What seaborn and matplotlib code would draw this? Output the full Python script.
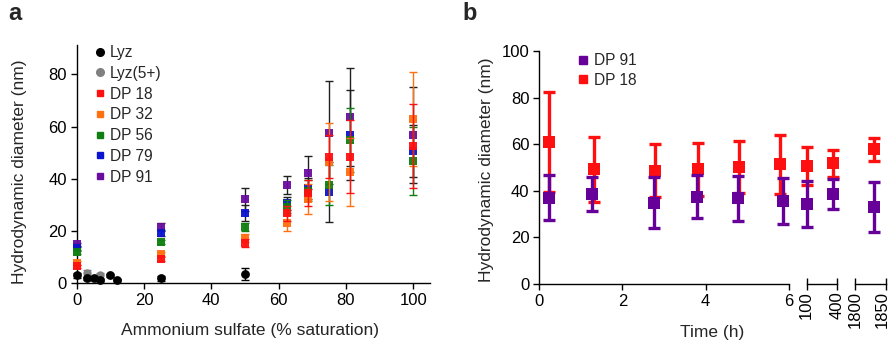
import numpy as np
import pandas as pd
import matplotlib
matplotlib.use("Agg")
import matplotlib.pyplot as plt
import matplotlib.transforms as mtransforms
import seaborn as sns
from matplotlib.lines import Line2D

# ---------------- Panel a data ----------------
as_x = [0, 25, 50, 62.5, 68.75, 75, 81.25, 100]
dp18 = [6.5, 9.2, 15.3, 26.8, 34.5, 48.5, 48.5, 52.6]
dp18_err = [0.6, 0.8, 1.5, 3.0, 5.0, 8.3, 14.0, 16.0]
dp32 = [7.8, 11.2, 17.2, 23.2, 32.2, 46.6, 42.8, 62.8]
dp32_err = [0.6, 0.8, 1.5, 3.0, 5.7, 15.0, 13.0, 18.0]
dp56 = [11.9, 15.8, 21.5, 29.3, 35.5, 37.7, 54.9, 47.0]
dp56_err = [0.6, 0.8, 1.5, 2.5, 4.0, 7.7, 12.4, 13.0]
dp79 = [13.4, 19.2, 27.0, 30.6, 36.4, 35.1, 56.8, 50.8]
dp79_err = [0.6, 1.2, 3.0, 2.5, 4.0, 11.5, 17.3, 10.0]
dp91 = [15.0, 21.7, 32.2, 37.7, 42.4, 57.7, 63.8, 56.8]
dp91_err = [0.6, 1.5, 4.4, 3.3, 6.4, 19.8, 18.8, 18.4]

lyz_x = [0, 3, 5, 7, 10, 12, 25, 50]
lyz_y = [3.0, 1.9, 1.9, 1.2, 3.0, 1.3, 1.9, 3.7]
lyz_err = [0.8, 0.5, 0.5, 0.5, 0.5, 0.5, 1.0, 2.3]
lyz5_x = [3, 7]
lyz5_y = [3.8, 3.0]
lyz5_err = [1.2, 0.8]

# ---------------- Panel b data ----------------
t91 = [0.25, 1.27, 2.75, 3.8, 4.78, 5.85, 100, 355, 1831]
dp91_b = [37.0, 38.6, 34.9, 37.5, 36.8, 35.6, 34.3, 38.6, 33.2]
dp91_b_err = [9.7, 7.4, 11.0, 9.3, 9.7, 9.8, 10.0, 6.6, 10.7]
t18 = [0.25, 1.32, 2.79, 3.82, 4.8, 5.78, 102, 355, 1831]
dp18_b = [60.9, 49.2, 48.6, 49.2, 50.3, 51.4, 50.6, 51.8, 57.8]
dp18_b_err = [21.4, 13.9, 11.4, 11.4, 11.2, 12.6, 8.3, 5.7, 4.8]

b_segments = [(0, 6), (100, 400), (1800, 1850)]
b_ticks = [[0, 2, 4, 6], [100, 400], [1800, 1850]]

# ---------------- style ----------------
sns.set_theme(style="ticks")
plt.rcParams['font.family'] = ['Liberation Sans', 'DejaVu Sans']
plt.rcParams['axes.linewidth'] = 1.0
TICK_FS = 12
LAB_FS = 12.5
LEG_FS = 11.2

C_RED = "#ff1010"
C_ORA = "#ff7010"
C_GRN = "#0f7f12"
C_BLU = "#0a14d0"
C_PUR = "#6a0ca0"
C_PUR_B = "#660099"

W, H = 891, 341
fig = plt.figure(figsize=(W / 100, H / 100), dpi=100)


def rect(l, t, r, b):
    return [l / W, 1 - b / H, (r - l) / W, (b - t) / H]


# ================= Panel a =================
axa = fig.add_axes(rect(76.7, 45, 430, 283.3))
series_a = [
    ("DP 91", dp91, dp91_err, C_PUR, "#202020"),
    ("DP 79", dp79, dp79_err, C_BLU, "#202020"),
    ("DP 56", dp56, dp56_err, C_GRN, C_GRN),
    ("DP 32", dp32, dp32_err, C_ORA, C_ORA),
    ("DP 18", dp18, dp18_err, C_RED, C_RED),
]
z = 3
for name, vals, errs, col, ecol in series_a:
    axa.errorbar(as_x, vals, yerr=errs, fmt='none', ecolor=ecol, elinewidth=1.0,
                 capsize=2.6, capthick=1.0, zorder=z, clip_on=False)
    df = pd.DataFrame({"x": as_x, "y": vals})
    sns.scatterplot(data=df, x="x", y="y", ax=axa, marker='s', color=col, s=30,
                    linewidth=0, zorder=z + 0.5, clip_on=False, alpha=0.95)
    z += 1

axa.errorbar(lyz5_x, lyz5_y, yerr=lyz5_err, fmt='none', ecolor="#808080",
             elinewidth=1.0, capsize=2.6, capthick=1.0, zorder=z, clip_on=False)
sns.scatterplot(x=lyz5_x, y=lyz5_y, ax=axa, marker='o', color="#808080", s=36,
                linewidth=0, zorder=z + 0.5, clip_on=False)
z += 1
axa.errorbar(lyz_x, lyz_y, yerr=lyz_err, fmt='none', ecolor="black",
             elinewidth=1.0, capsize=2.6, capthick=1.0, zorder=z, clip_on=False)
sns.scatterplot(x=lyz_x, y=lyz_y, ax=axa, marker='o', color="black", s=40,
                linewidth=0, zorder=z + 0.5, clip_on=False)

axa.set_xlim(0, 105)
axa.set_ylim(0, 91.3)
axa.set_xticks([0, 20, 40, 60, 80, 100])
axa.set_yticks([0, 20, 40, 60, 80])
axa.set_xlabel("")
axa.set_ylabel("")
sns.despine(ax=axa)
axa.tick_params(axis='both', direction='out', length=4, width=1.0,
                labelsize=TICK_FS, colors='black', pad=3)
for s in axa.spines.values():
    s.set_color('black')

handles_a = [
    Line2D([], [], marker='o', color='black', linestyle='none', markersize=5.5),
    Line2D([], [], marker='o', color='#808080', linestyle='none', markersize=5.5),
    Line2D([], [], marker='s', color=C_RED, linestyle='none', markersize=4.8),
    Line2D([], [], marker='s', color=C_ORA, linestyle='none', markersize=4.8),
    Line2D([], [], marker='s', color=C_GRN, linestyle='none', markersize=4.8),
    Line2D([], [], marker='s', color=C_BLU, linestyle='none', markersize=4.8),
    Line2D([], [], marker='s', color=C_PUR, linestyle='none', markersize=4.8),
]
labels_a = ["Lyz", "Lyz(5+)", "DP 18", "DP 32", "DP 56", "DP 79", "DP 91"]
axa.legend(handles_a, labels_a, loc='upper left', bbox_to_anchor=(0.048, 1.0),
           frameon=False, fontsize=LEG_FS, handlelength=0.8, handletextpad=0.25,
           labelspacing=0.37, borderpad=0, borderaxespad=0)

fig.text(250 / W, 1 - 331 / H, "Ammonium sulfate (% saturation)", ha='center',
         va='center', fontsize=LAB_FS)
fig.text(20 / W, 1 - 172 / H, "Hydrodynamic diameter (nm)", ha='center',
         va='center', rotation=90, fontsize=LAB_FS)
fig.text(8 / W, 1 - 14 / H, "a", ha='left', va='center', fontsize=17,
         fontweight='bold')

# ================= Panel b =================
seg_px = [(539, 789), (806.7, 837.3), (855, 885.7)]
axes_b = []
for i, ((lo, hi), (pl, pr), ticks) in enumerate(zip(b_segments, seg_px, b_ticks)):
    ax = fig.add_axes(rect(pl, 51, pr, 284))
    axes_b.append(ax)
    for tt, vals, errs, col, zz in [(t18, dp18_b, dp18_b_err, C_RED, 3),
                                    (t91, dp91_b, dp91_b_err, C_PUR_B, 5)]:
        sel = [k for k, v in enumerate(tt) if lo <= v <= hi]
        xs = [tt[k] for k in sel]
        ys = [vals[k] for k in sel]
        es = [errs[k] for k in sel]
        ax.errorbar(xs, ys, yerr=es, fmt='none', ecolor=col, elinewidth=2.4,
                    capsize=4.3, capthick=2.4, zorder=zz, clip_on=False)
        sns.scatterplot(x=xs, y=ys, ax=ax, marker='s', color=col, s=80,
                        linewidth=0, zorder=zz + 0.5, clip_on=False)
    ax.set_xlim(lo, hi)
    ax.set_ylim(0, 100)
    ax.set_xticks(ticks)
    ax.set_xlabel("")
    ax.set_ylabel("")
    ax.spines['top'].set_visible(False)
    ax.spines['right'].set_visible(False)
    ax.spines['bottom'].set_color('black')
    ax.spines['left'].set_color('black')
    if i == 0:
        ax.set_yticks([0, 20, 40, 60, 80, 100])
        ax.tick_params(axis='both', direction='out', length=4, width=1.0,
                       labelsize=TICK_FS, colors='black', pad=3)
        ax.set_xticks([6], minor=True)
        ax.tick_params(axis='x', which='minor', direction='in', length=4.3,
                       width=1.0, colors='black')
    else:
        ax.spines['left'].set_visible(False)
        ax.set_yticks([])
        ax.set_xticklabels([str(v) for v in ticks], rotation=90)
        ax.tick_params(axis='x', direction='inout', length=8.6, width=1.0,
                       labelsize=TICK_FS, colors='black', pad=1)
    ax.patch.set_alpha(0)

# keep the last rotated label inside the canvas
last_lbl = axes_b[2].get_xticklabels()[-1]
last_lbl.set_transform(last_lbl.get_transform() +
                       mtransforms.ScaledTranslation(-3 / 100, 0, fig.dpi_scale_trans))

handles_b = [
    Line2D([], [], marker='s', color=C_PUR_B, linestyle='none', markersize=6),
    Line2D([], [], marker='s', color=C_RED, linestyle='none', markersize=6),
]
axes_b[0].legend(handles_b, ["DP 91", "DP 18"], loc='upper left',
                 bbox_to_anchor=(0.15, 0.99), frameon=False, fontsize=LEG_FS,
                 handlelength=0.8, handletextpad=0.3, labelspacing=0.27,
                 borderpad=0, borderaxespad=0)

fig.text(712 / W, 1 - 333 / H, "Time (h)", ha='center', va='center',
         fontsize=LAB_FS)
fig.text(487 / W, 1 - 170 / H, "Hydrodynamic diameter (nm)", ha='center',
         va='center', rotation=90, fontsize=LAB_FS)
fig.text(462 / W, 1 - 14 / H, "b", ha='left', va='center', fontsize=17,
         fontweight='bold')

fig.savefig("out.png", dpi=100)
